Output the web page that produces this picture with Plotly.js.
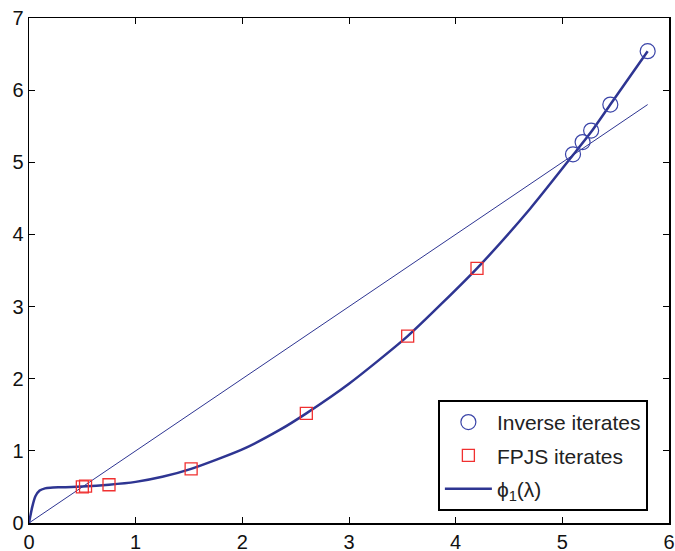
<!DOCTYPE html>
<html>
<head>
<meta charset="utf-8">
<script src="https://cdn.plot.ly/plotly-3.0.1.min.js"></script>
<style>html,body{margin:0;padding:0;background:#fff;}#chart{width:675px;height:551px;}</style>
</head>
<body>
<div id="chart"></div>
<script>
// phi_1(lambda) curve
const curveX = [0, 0.03, 0.06, 0.1, 0.15, 0.2, 0.3, 0.5, 0.75, 1.0, 1.25, 1.52, 2.0, 2.35, 2.6, 3.0, 3.55, 4.2, 4.7, 5.1, 5.28, 5.45, 5.8];
const curveY = [0, 0.22, 0.37, 0.45, 0.48, 0.49, 0.495, 0.505, 0.53, 0.57, 0.64, 0.75, 1.02, 1.29, 1.52, 1.93, 2.59, 3.53, 4.36, 5.1, 5.44, 5.8, 6.54];
// identity line
const diagX = [0, 5.8];
const diagY = [0, 5.8];
// inverse iterates
const invX = [5.8, 5.45, 5.27, 5.19, 5.10];
const invY = [6.54, 5.80, 5.44, 5.28, 5.11];
// FPJS iterates
const fpjsX = [4.2, 3.55, 2.6, 1.52, 0.75, 0.53, 0.5];
const fpjsY = [3.53, 2.59, 1.52, 0.75, 0.53, 0.51, 0.50];

const blue = '#2e3592';
const traces = [
  {x: diagX, y: diagY, mode: 'lines', line: {color: blue, width: 1}, showlegend: false, hoverinfo: 'skip'},
  {x: curveX, y: curveY, mode: 'lines', line: {color: blue, width: 2.5, shape: 'spline', smoothing: 0.6}, name: 'ϕ<sub>1</sub>(λ)', legendrank: 3, legendgroup: 'c'},
  {x: invX, y: invY, mode: 'markers', marker: {symbol: 'circle-open', size: 15, color: '#3a44a8', line: {width: 1.2}}, name: 'Inverse iterates', legendrank: 1, legendgroup: 'a'},
  {x: fpjsX, y: fpjsY, mode: 'markers', marker: {symbol: 'square-open', size: 12, color: '#f03030', line: {width: 1.3}}, name: 'FPJS iterates', legendrank: 2, legendgroup: 'b'}
];

const axisCommon = {
  showgrid: false, zeroline: false, showline: true, linecolor: '#000', linewidth: 1.5,
  mirror: 'ticks', ticks: 'inside', ticklen: 6, tickwidth: 1, tickcolor: '#000',
  dtick: 1, tick0: 0, tickfont: {family: 'Liberation Sans, Arial, sans-serif', size: 20, color: '#111'}
};

const layout = {
  width: 675, height: 551,
  margin: {l: 29, r: 6, t: 18, b: 28},
  paper_bgcolor: '#fff', plot_bgcolor: '#fff',
  xaxis: Object.assign({}, axisCommon, {range: [0, 6], ticklabelstandoff: 0}),
  yaxis: Object.assign({}, axisCommon, {range: [0, 7]}),
  legend: {
    x: 0.967, y: 0.024, xanchor: 'right', yanchor: 'bottom',
    bordercolor: '#000', borderwidth: 2, bgcolor: '#fff',
    font: {family: 'Liberation Sans, Arial, sans-serif', size: 21, color: '#222'},
    traceorder: 'grouped', tracegroupgap: 3, itemwidth: 47
  },
  showlegend: true
};

Plotly.newPlot('chart', traces, layout, {displayModeBar: false, staticPlot: true});
</script>
</body>
</html>
